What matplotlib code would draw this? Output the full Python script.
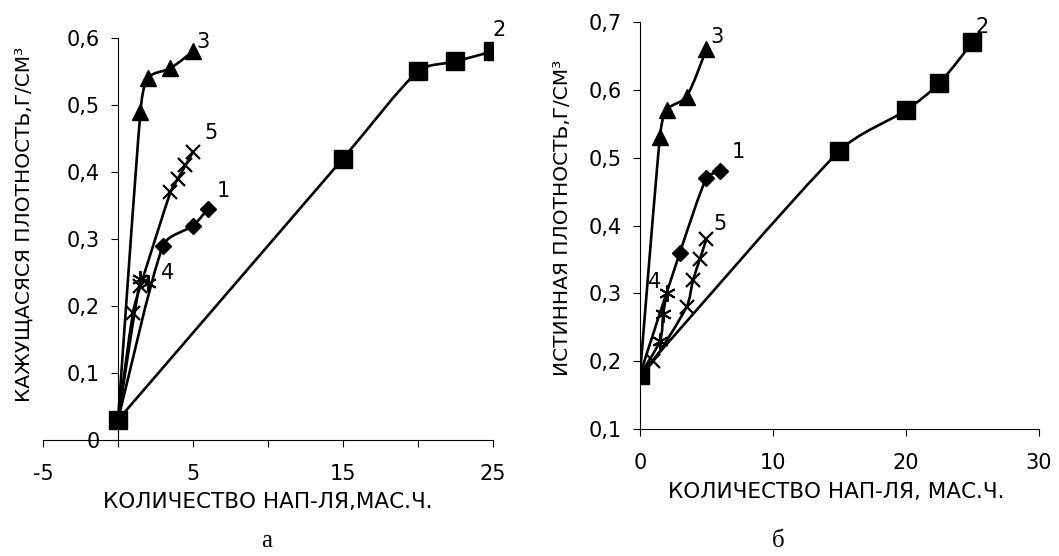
import matplotlib.pyplot as plt
from matplotlib.path import Path
from matplotlib.patches import PathPatch

# --- а: кажущаяся плотность ---
a_x1 = [0, 3, 5, 6]
a_y1 = [0.03, 0.29, 0.32, 0.345]
a_x2 = [0, 15, 20, 22.5, 25]
a_y2 = [0.03, 0.42, 0.55, 0.565, 0.58]
a_x3 = [0, 1.5, 2, 3.5, 5]
a_y3 = [0.03, 0.49, 0.54, 0.555, 0.58]
a_x4 = [0, 1.5, 2]
a_y4 = [0.03, 0.24, 0.235]
a_x5 = [0, 1, 1.5, 3.5, 4, 4.5, 5]
a_y5 = [0.03, 0.19, 0.23, 0.37, 0.39, 0.41, 0.43]

# --- б: истинная плотность ---
b_x1 = [0, 3, 5, 6]
b_y1 = [0.18, 0.36, 0.47, 0.48]
b_x2 = [0, 15, 20, 22.5, 25]
b_y2 = [0.18, 0.51, 0.57, 0.61, 0.67]
b_x3 = [0, 1.5, 2, 3.5, 5]
b_y3 = [0.18, 0.53, 0.57, 0.59, 0.66]
b_x4 = [0, 1.5, 1.75, 2]
b_y4 = [0.18, 0.23, 0.27, 0.30]
b_x5 = [0, 1, 3.5, 4, 4.5, 5]
b_y5 = [0.18, 0.20, 0.28, 0.32, 0.35, 0.38]

a_labels = {'1': (7.0, 0.372), '2': (25.4, 0.612), '3': (5.7, 0.594),
            '4': (3.3, 0.25), '5': (6.2, 0.458)}
b_labels = {'1': (7.4, 0.508), '2': (25.7, 0.692), '3': (5.8, 0.678),
            '4': (1.1, 0.317), '5': (6.0, 0.402)}

FONT = 'DejaVu Sans'


def smooth(ax, xs, ys):
    # Excel-like smoothed line: Catmull-Rom Bezier in screen space,
    # handles clamped so short segments do not overshoot
    to_px = ax.transData
    pts = [tuple(p) for p in to_px.transform(list(zip(xs, ys)))]
    n = len(pts)

    def handle(a, b, seg):
        tx, ty = (b[0] - a[0]) / 6, (b[1] - a[1]) / 6
        ln = (tx ** 2 + ty ** 2) ** 0.5
        lim = seg / 3
        if ln > lim and ln > 0:
            tx, ty = tx * lim / ln, ty * lim / ln
        return tx, ty

    verts = [pts[0]]
    codes = [Path.MOVETO]
    for i in range(n - 1):
        p0 = pts[max(i - 1, 0)]
        p1 = pts[i]
        p2 = pts[i + 1]
        p3 = pts[min(i + 2, n - 1)]
        seg = ((p2[0] - p1[0]) ** 2 + (p2[1] - p1[1]) ** 2) ** 0.5
        t1 = handle(p0, p2, seg)
        t2 = handle(p1, p3, seg)
        c1 = (p1[0] + t1[0], p1[1] + t1[1])
        c2 = (p2[0] - t2[0], p2[1] - t2[1])
        verts += [c1, c2, p2]
        codes += [Path.CURVE4] * 3
    data_verts = to_px.inverted().transform(verts)
    ax.add_patch(PathPatch(Path(data_verts, codes), fill=False, lw=1.9,
                           edgecolor='black', zorder=2))


def draw(ax, series, labels):
    styles = [dict(marker='D', ms=8),
              dict(marker='s', ms=13),
              dict(marker='^', ms=11),
              dict(marker=(6, 2, 0), ms=12, mew=1.4),
              dict(marker='x', ms=10, mew=1.6)]
    order = [0, 2, 3, 4, 1]
    for k in order:
        xs, ys = series[k]
        smooth(ax, xs, ys)
        ax.plot(xs, ys, ls='none', color='black', mec='black', zorder=3,
                **styles[k])
    for name, (tx, ty) in labels.items():
        ax.text(tx, ty, name, fontsize=15, family=FONT, ha='center',
                va='center')
    for s in ['top', 'right']:
        ax.spines[s].set_visible(False)
    ax.spines['left'].set_position(('data', 0))
    ax.tick_params(axis='y', direction='out', length=5, pad=8,
                   labelsize=15)
    ax.tick_params(axis='x', direction='out', length=5, pad=12,
                   labelsize=15)
    for lab in ax.get_xticklabels() + ax.get_yticklabels():
        lab.set_family(FONT)


fig = plt.figure(figsize=(10.59, 5.56), dpi=100)

ax1 = fig.add_axes([0.0406, 0.2086, 0.4249, 0.7231])
ax1.set_xlim(-5, 25)
ax1.set_ylim(0, 0.6)
ax1.set_xticks(range(-5, 30, 5))
ax1.set_xticklabels(['-5', '', '5', '', '15', '', '25'])
ax1.set_yticks([0, 0.1, 0.2, 0.3, 0.4, 0.5, 0.6])
ax1.set_yticklabels(['0', '0,1', '0,2', '0,3', '0,4', '0,5', '0,6'])

ax2 = fig.add_axes([0.6043, 0.2284, 0.3768, 0.732])
ax2.set_xlim(0, 30)
ax2.set_ylim(0.1, 0.7)
ax2.set_xticks([0, 10, 20, 30])
ax2.set_xticklabels(['0', '10', '20', '30'])
ax2.set_yticks([0.1, 0.2, 0.3, 0.4, 0.5, 0.6, 0.7])
ax2.set_yticklabels(['0,1', '0,2', '0,3', '0,4', '0,5', '0,6', '0,7'])

draw(ax1, [(a_x1, a_y1), (a_x2, a_y2), (a_x3, a_y3), (a_x4, a_y4),
           (a_x5, a_y5)], a_labels)
draw(ax2, [(b_x1, b_y1), (b_x2, b_y2), (b_x3, b_y3), (b_x4, b_y4),
           (b_x5, b_y5)], b_labels)

# axis titles
fig.text(268 / 1059, 1 - 502 / 556, 'КОЛИЧЕСТВО НАП-ЛЯ,МАС.Ч.', family=FONT,
         fontsize=15.5, ha='center', va='center')
fig.text(836 / 1059, 1 - 492 / 556, 'КОЛИЧЕСТВО НАП-ЛЯ, МАС.Ч.', family=FONT,
         fontsize=15.5, ha='center', va='center')
fig.text(24 / 1059, 1 - 224 / 556, 'КАЖУЩАСЯСЯ ПЛОТНОСТЬ,Г/СМ³', family=FONT,
         fontsize=14.5, ha='center', va='center', rotation=90)
fig.text(563 / 1059, 1 - 218 / 556, 'ИСТИННАЯ ПЛОТНОСТЬ,Г/СМ³', family=FONT,
         fontsize=14.5, ha='center', va='center', rotation=90)

fig.text(267 / 1059, 1 - 541 / 556, 'а', family='Liberation Serif',
         fontsize=18, ha='center', va='center')
fig.text(778 / 1059, 1 - 541 / 556, 'б', family='Liberation Serif',
         fontsize=18, ha='center', va='center')

fig.savefig('out.png', dpi=100)
